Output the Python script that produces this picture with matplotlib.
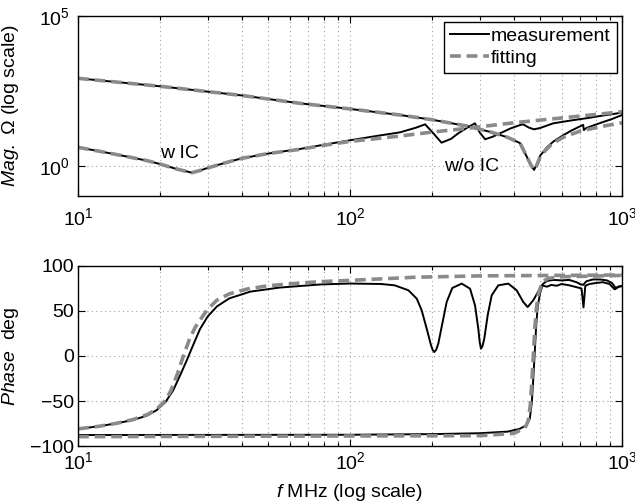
import matplotlib.pyplot as plt
from matplotlib.ticker import FixedLocator, LogLocator, NullFormatter

plt.rcParams['font.family'] = ['Liberation Sans', 'DejaVu Sans']
plt.rcParams['mathtext.fontset'] = 'custom'
plt.rcParams['mathtext.rm'] = 'Liberation Sans'
plt.rcParams['mathtext.it'] = 'Liberation Sans:italic'
plt.rcParams['font.size'] = 14

# magnitude, with IC (measurement)
mag_wic_meas_f = [10, 12, 15, 18, 20, 23, 26.2, 28, 29.7, 35, 40, 50, 65.5, 80, 100, 125, 153,
                  175, 189, 203, 217, 235, 250, 270, 288, 300, 314, 335, 356, 390, 422, 433,
                  455, 475, 500, 559, 650, 738, 850, 1000]
mag_wic_meas = [4.2, 3.1, 2.1, 1.5, 1.17, 0.8, 0.6, 0.7, 0.84, 1.3, 1.8, 2.6, 3.7, 5.1, 7.2, 10,
                13.3, 19, 24.5, 12, 6.0, 8, 12.3, 19, 26.5, 13, 7.8, 9.5, 12.3, 18, 23.2, 24.5,
                19, 16.7, 18.5, 26.5, 33, 39, 48, 60]
# magnitude, with IC (fitting)
mag_wic_fit_f = [10, 12, 15, 18, 20, 23, 26.2, 28, 29.7, 35, 40, 50, 65.5, 80, 100, 153, 200,
                 269, 350, 422, 600, 800, 1000]
mag_wic_fit = [4.2, 3.1, 2.1, 1.5, 1.17, 0.8, 0.6, 0.7, 0.84, 1.3, 1.8, 2.6, 3.6, 4.9, 6.6, 10,
               13.5, 18, 24, 29, 40, 52, 64.6]
# magnitude, without IC (measurement)
mag_wo_meas_f = [10, 20, 40, 65.5, 100, 153, 200, 269, 330, 380, 422, 446, 465, 475, 485, 500,
                 530, 559, 607, 650, 712, 720, 724, 740, 830, 920, 1000]
mag_wo_meas = [838, 455, 225, 123, 80, 50, 35, 21.5, 13.5, 9, 5.8, 2.1, 1.0, 0.74, 1.1, 2.2,
               4.2, 6.5, 10.5, 15, 22.5, 23.5, 15.8, 18.5, 27, 37, 50]
# magnitude, without IC (fitting)
mag_wo_fit_f = [10, 20, 40, 65.5, 100, 153, 200, 269, 330, 380, 422, 446, 465, 475, 485, 500,
                530, 559, 607, 700, 830, 1000]
mag_wo_fit = [838, 455, 225, 123, 80, 50, 35, 21.5, 13.5, 9, 5.8, 2.1, 1.0, 0.74, 1.0, 2.0,
              3.8, 5.8, 9.0, 14.5, 20.4, 27.7]

# phase, with IC (measurement)
ph_wic_meas_f = [10, 12, 14, 16, 18, 19.5, 21, 22.4, 23.7, 25.1, 26.5, 28.1, 30, 32.4, 36, 43,
                 55, 78, 100, 130,
                 146, 164, 176, 183.5, 191.4, 198.6, 201.5, 204.2, 207.5, 211.2, 218.5, 226.7,
                 237.8, 257.5, 276.3, 288.2, 296.3, 300, 303.1, 307, 311.7, 320.8, 331.9, 351,
                 382, 410, 433.6, 450, 472, 507,
                 530, 550, 575, 600, 640, 690, 710, 722, 733, 760, 800, 850, 900, 940, 965, 1000]
ph_wic_meas = [-81, -78, -74.5, -71, -66, -60, -51, -38, -22, -5, 12, 30, 44, 55, 64, 71.5,
               76, 79.5, 80.5, 80,
               78.5, 73, 63.7, 50.7, 30.4, 11.9, 6.5, 4.4, 7, 13.7, 36, 60,
               75.6, 80.4, 74.8, 56.3, 30.4, 15, 8.1, 11, 19.2, 45.2, 67.4, 78.5,
               80.4, 73, 60, 54.4, 61.9, 78.5,
               77, 79, 78, 80, 78.5, 76, 75, 54, 78, 80, 81, 82, 80, 74, 77, 77.5]
# phase, with IC (fitting)
ph_wic_fit_f = [10, 12, 14, 16, 18, 19.5, 21, 22, 23.2, 24.4, 25.8, 27, 28.1, 30, 32.4, 36, 42,
                50, 65, 78, 100, 173, 300, 1000]
ph_wic_fit = [-81, -78, -74.5, -70.5, -65, -59, -49, -38, -20, 0, 20, 32, 40, 52, 62, 69, 74.5,
              78, 81, 82.6, 84, 87.5, 89, 90]
# phase, without IC (measurement)
ph_wo_meas_f = [10, 100, 200, 300, 380, 420, 445, 458, 466, 472, 478, 484, 490, 500, 512, 530,
                560, 600, 640, 680, 700, 720, 740, 780, 830, 880, 920, 950, 975, 1000]
ph_wo_meas = [-87.8, -87.5, -86.8, -85.8, -84, -81, -77, -70, -52, -25, 5, 35, 55, 70, 80, 83.5,
              84.5, 84, 84.5, 82, 80, 79, 83, 85, 85, 84, 81, 75, 77, 78]
# phase, without IC (fitting)
ph_wo_fit_f = [10, 300, 400, 440, 452, 460, 466, 472, 478, 484, 492, 505, 520, 536, 600, 1000]
ph_wo_fit = [-89.6, -88.5, -86, -80, -72, -55, -30, 0, 30, 52, 68, 79, 84, 86.3, 88, 89.5]

grey = '#8a8a8a'
meas_kw = dict(color='black', lw=1.4)
fit_kw = dict(color=grey, lw=2.6, dashes=(3, 1.6))

fig = plt.figure(figsize=(6.35, 5.03), dpi=100)
ax1 = fig.add_axes([0.1228, 0.6103, 0.8567, 0.3579])
ax2 = fig.add_axes([0.1228, 0.1133, 0.8567, 0.3579])

ax1.plot(mag_wic_meas_f, mag_wic_meas, label='measurement', **meas_kw)
ax1.plot(mag_wo_meas_f, mag_wo_meas, **meas_kw)
ax1.plot(mag_wic_fit_f, mag_wic_fit, label='fitting', **fit_kw)
ax1.plot(mag_wo_fit_f, mag_wo_fit, **fit_kw)

ax2.plot(ph_wic_meas_f, ph_wic_meas, **meas_kw)
ax2.plot(ph_wo_meas_f, ph_wo_meas, **meas_kw)
ax2.plot(ph_wic_fit_f, ph_wic_fit, **fit_kw)
ax2.plot(ph_wo_fit_f, ph_wo_fit, **fit_kw)

for ax in (ax1, ax2):
    ax.set_xscale('log')
    ax.set_xlim(10, 1000)
    ax.xaxis.set_major_locator(FixedLocator([10, 100, 1000]))
    ax.xaxis.set_minor_locator(LogLocator(base=10, subs=range(2, 10)))
    ax.xaxis.set_minor_formatter(NullFormatter())
    ax.tick_params(which='both', direction='in', top=True, right=True, width=0.8)
    ax.tick_params(which='major', length=5)
    ax.tick_params(which='minor', length=3)
    ax.grid(True, which='major', color='#a0a0a0', ls=(0, (1, 3)), lw=0.8)
    ax.grid(True, which='minor', axis='x', color='#a0a0a0', ls=(0, (1, 3)), lw=0.8)
    for s in ax.spines.values():
        s.set_linewidth(1.0)

ax1.set_yscale('log')
ax1.set_ylim(0.1, 1e5)
ax1.yaxis.set_major_locator(FixedLocator([1, 1e5]))
ax1.yaxis.set_minor_locator(FixedLocator([]))
ax1.tick_params(axis='x', which='major', pad=8)
ax1.tick_params(axis='y', which='major', pad=6)
ax1.set_ylabel(r'$\mathit{Mag.}$ Ω (log scale)')
ax1.yaxis.set_label_coords(-0.105, 0.5)
ax1.text(20, 2.7, 'w IC', ha='left', va='center')
ax1.text(222, 0.93, 'w/o IC', ha='left', va='center')
ax1.legend(loc='upper right', bbox_to_anchor=(0.99, 0.968), borderaxespad=0,
           fancybox=False, edgecolor='black', framealpha=1, handlelength=2.0,
           handletextpad=0.1, borderpad=0.3, labelspacing=0.2)

ax2.set_ylim(-100, 100)
ax2.yaxis.set_major_locator(FixedLocator([-100, -50, 0, 50, 100]))
ax2.tick_params(axis='x', which='major', pad=4)
ax2.tick_params(axis='y', which='major', pad=3)
ax2.set_ylabel(r'$\mathit{Phase}$  deg')
ax2.yaxis.set_label_coords(-0.104, 0.5)
ax2.set_xlabel(r'$\mathit{f}$ MHz (log scale)')
ax2.xaxis.set_label_coords(0.5, -0.2)

fig.savefig('out.png', dpi=100)
